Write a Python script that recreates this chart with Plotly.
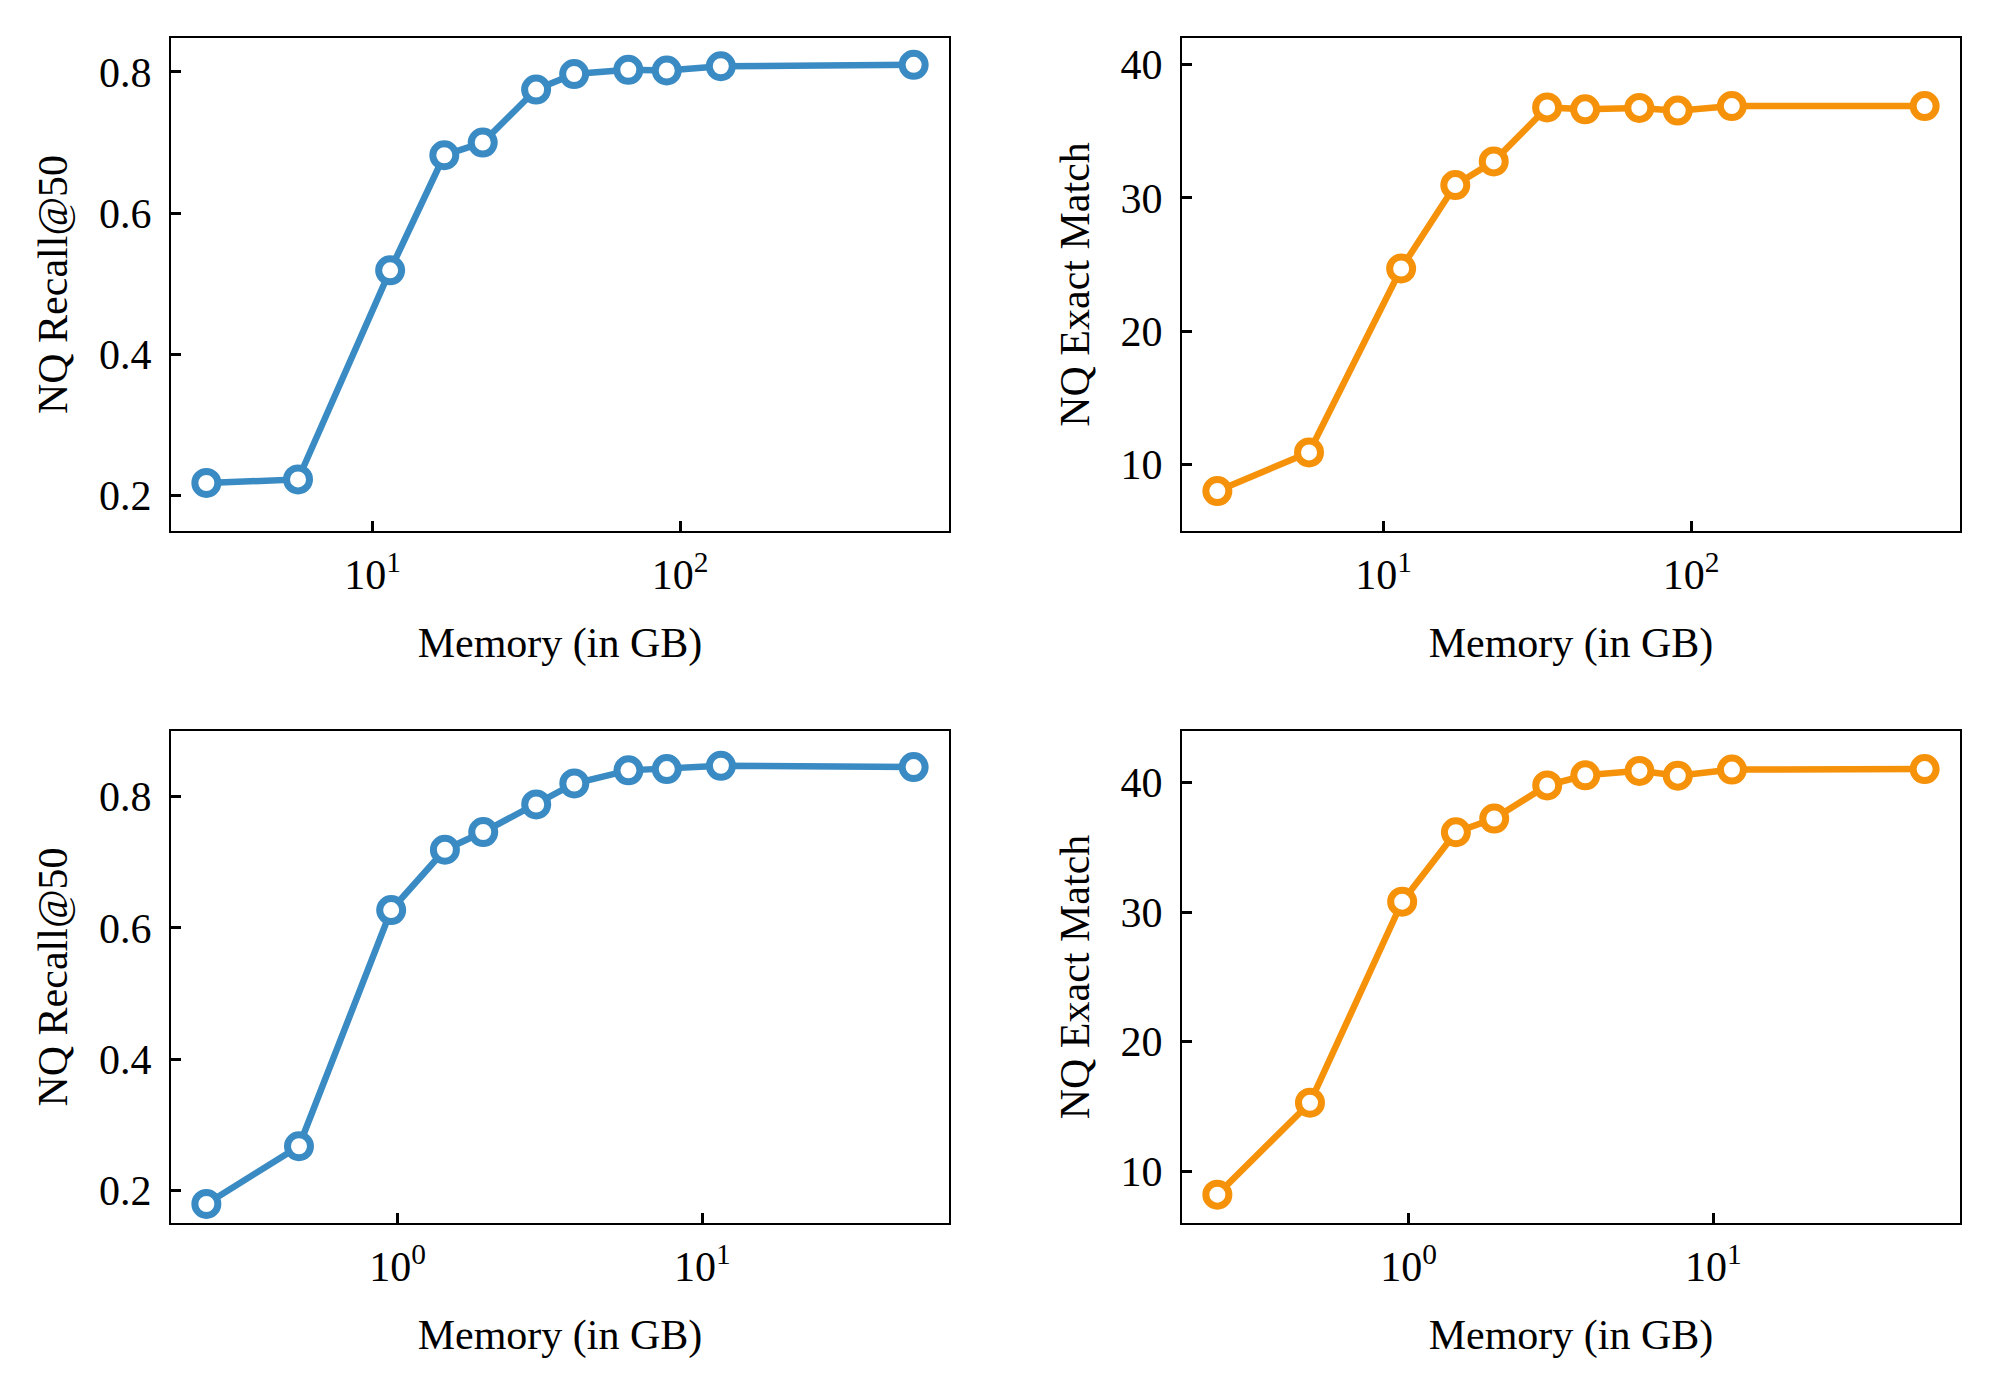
import math
import plotly.graph_objects as go

# ---- data ----
mem_top = [2.88, 5.72, 11.4, 17.1, 22.8, 34.0, 45.2, 67.8, 90.4, 135.5, 574.0]
recall_top = [0.218, 0.223, 0.519, 0.682, 0.700, 0.775, 0.797, 0.803, 0.802, 0.808, 0.810]
em_top = [8.0, 10.9, 24.7, 30.96, 32.74, 36.79, 36.65, 36.75, 36.55, 36.89, 36.89]

mem_bot = [0.236, 0.475, 0.953, 1.43, 1.91, 2.85, 3.80, 5.72, 7.64, 11.5, 49.3]
recall_bot = [0.179, 0.267, 0.627, 0.719, 0.746, 0.788, 0.820, 0.840, 0.842, 0.847, 0.845]
em_bot = [8.19, 15.29, 30.82, 36.18, 37.24, 39.80, 40.58, 40.92, 40.55, 41.02, 41.06]

recall_ticks = [0.2, 0.4, 0.6, 0.8]
em_ticks = [10, 20, 30, 40]

x_title = "Memory (in GB)"
recall_title = "NQ Recall@50"
em_title = "NQ Exact Match"

BLUE = "#3A8BC3"
ORANGE = "#F5920A"
FONT = "Liberation Serif"
FS = 42

W, H = 2000, 1396
xdom_left = [171 / W, 949 / W]
xdom_right = [1182 / W, 1960 / W]
ydom_top = [1 - 531 / H, 1 - 38 / H]
ydom_bot = [1 - 1223 / H, 1 - 731 / H]


def log_range(xs, pad=0.05):
    lo, hi = math.log10(min(xs)), math.log10(max(xs))
    s = hi - lo
    return [lo - pad * s, hi + pad * s]


def decade_ticks(rng):
    vals, txt = [], []
    for e in range(math.ceil(rng[0]), math.floor(rng[1]) + 1):
        vals.append(10 ** e)
        txt.append("10<sup>%d</sup>" % e)
    return vals, txt


panels = [
    # (x, y, color, xdomain, ydomain, yrange, yticks, ytitle, yfmt)
    (mem_top, recall_top, BLUE, xdom_left, ydom_top, [0.15, 0.848], recall_ticks, recall_title, ".1f"),
    (mem_top, em_top, ORANGE, xdom_right, ydom_top, [5, 42], em_ticks, em_title, "d"),
    (mem_bot, recall_bot, BLUE, xdom_left, ydom_bot, [0.15, 0.9], recall_ticks, recall_title, ".1f"),
    (mem_bot, em_bot, ORANGE, xdom_right, ydom_bot, [6, 44], em_ticks, em_title, "d"),
]

fig = go.Figure()
layout = {}
for i, (xs, ys, col, xd, yd, yr, yt, ytitle, yfmt) in enumerate(panels, start=1):
    sfx = "" if i == 1 else str(i)
    fig.add_trace(go.Scatter(
        x=xs, y=ys, mode="lines+markers",
        xaxis="x" + sfx, yaxis="y" + sfx,
        line=dict(color=col, width=6.5),
        marker=dict(symbol="circle", size=23, color="white",
                    line=dict(color=col, width=7)),
        showlegend=False, cliponaxis=False,
    ))
    xr = log_range(xs)
    tv, tt = decade_ticks(xr)
    axis_common = dict(
        showline=True, linecolor="black", linewidth=2, mirror=True,
        ticks="inside", ticklen=10, tickwidth=2.5, tickcolor="black",
        showgrid=False, zeroline=False,
        tickfont=dict(family=FONT, size=FS, color="black"),
    )
    layout["xaxis" + sfx] = dict(
        axis_common, type="log", range=xr, domain=xd,
        anchor="y" + sfx, tickvals=tv, ticktext=tt, ticklabelstandoff=6,
        title=dict(text=x_title, font=dict(family=FONT, size=FS, color="black"), standoff=30),
    )
    layout["yaxis" + sfx] = dict(
        axis_common, range=yr, domain=yd, anchor="x" + sfx,
        tickvals=yt, tickformat=yfmt, ticklabelstandoff=9,
        title=dict(text=ytitle, font=dict(family=FONT, size=FS, color="black"), standoff=18),
    )

fig.update_layout(
    width=W, height=H,
    margin=dict(l=0, r=0, t=0, b=0),
    paper_bgcolor="white", plot_bgcolor="white",
    font=dict(family=FONT, size=FS, color="black"),
    **layout,
)

fig.write_html("out.html")
